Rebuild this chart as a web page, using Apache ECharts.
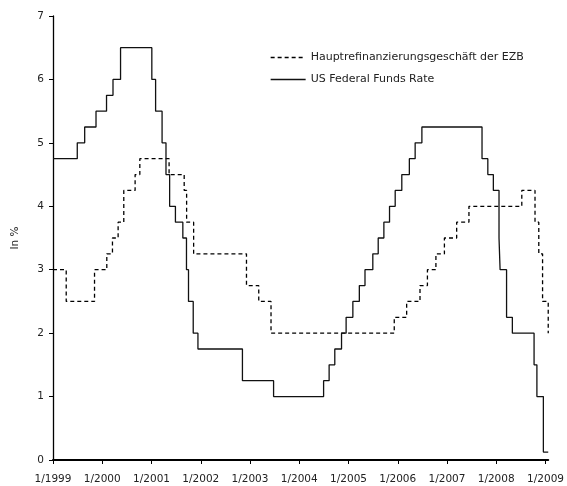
<!DOCTYPE html>
<html>
<head>
<meta charset="utf-8">
<script src="https://cdn.jsdelivr.net/npm/echarts@6/dist/echarts.min.js"></script>
<style>
html,body{margin:0;padding:0;background:#fff;}
#chart{width:567px;height:486px;}
</style>
</head>
<body>
<div id="chart"></div>
<script>
// ECB main refinancing rate (Hauptrefinanzierungsgeschäft der EZB), change dates and levels
var ecbDates = ['1999-01-01','1999-04-09','1999-11-05','2000-02-04','2000-03-17','2000-04-28','2000-06-09',
  '2000-09-01','2000-10-06','2001-05-11','2001-08-31','2001-09-18','2001-11-09','2002-12-06','2003-03-07',
  '2003-06-06','2005-12-06','2006-03-08','2006-06-15','2006-08-09','2006-10-11','2006-12-13','2007-03-14',
  '2007-06-13','2008-07-09','2008-10-15','2008-11-12','2008-12-10','2009-01-21'];
var ecbRates = [3.00,2.50,3.00,3.25,3.50,3.75,4.25,
  4.50,4.75,4.50,4.25,3.75,3.25,2.75,2.50,
  2.00,2.25,2.50,2.75,3.00,3.25,3.50,3.75,
  4.00,4.25,3.75,3.25,2.50,2.00];

// US Federal Funds target rate, change dates and levels
var fedDates = ['1999-01-01','1999-06-30','1999-08-24','1999-11-16','2000-02-02','2000-03-21','2000-05-16',
  '2001-01-03','2001-01-31','2001-03-20','2001-04-18','2001-05-15','2001-06-27','2001-08-21','2001-09-17',
  '2001-10-02','2001-11-06','2001-12-11','2002-11-06','2003-06-25','2004-06-30','2004-08-10','2004-09-21',
  '2004-11-10','2004-12-14','2005-02-02','2005-03-22','2005-05-03','2005-06-30','2005-08-09','2005-09-20',
  '2005-11-01','2005-12-13','2006-01-31','2006-03-28','2006-05-10','2006-06-29','2007-09-18','2007-10-31',
  '2007-12-11','2008-01-22','2008-01-30','2008-03-18','2008-04-30','2008-10-08','2008-10-29','2008-12-16'];
var fedRates = [4.75,5.00,5.25,5.50,5.75,6.00,6.50,
  6.00,5.50,5.00,4.50,4.00,3.75,3.50,3.00,
  2.50,2.00,1.75,1.25,1.00,1.25,1.50,1.75,
  2.00,2.25,2.50,2.75,3.00,3.25,3.50,3.75,
  4.00,4.25,4.50,4.75,5.00,5.25,4.75,4.50,
  4.25,3.50,3.00,2.25,2.00,1.50,1.00,0.125];

var startDate = '1999-01-01';
var endDate = '2009-01-21';
var yTicks = [0,1,2,3,4,5,6,7];
var seriesNames = ['Hauptrefinanzierungsgeschäft der EZB','US Federal Funds Rate'];

function toPairs(dates, vals) {
  var out = dates.map(function (d, i) { return [d, vals[i]]; });
  var last = out[out.length - 1];
  if (last[0] !== endDate) out.push([endDate, last[1]]);
  return out;
}

var FONT = 'DejaVu Sans';
var chart = echarts.init(document.getElementById('chart'), null, {renderer: 'canvas'});
chart.setOption({
  animation: false,
  backgroundColor: '#fff',
  textStyle: {fontFamily: FONT, color: '#222'},
  grid: {left: 53, right: 14, top: 16, bottom: 26, containLabel: false},
  legend: {
    orient: 'vertical', left: 265, top: 47,
    itemWidth: 35, itemHeight: 12, itemGap: 11,
    itemStyle: {opacity: 0},
    textStyle: {fontFamily: FONT, fontSize: 11, color: '#222'},
    data: [
      {name: seriesNames[0], lineStyle: {width: 1.3, type: [4, 3], color: '#000'}},
      {name: seriesNames[1], lineStyle: {width: 1.3, type: 'solid', color: '#111'}}
    ]
  },
  xAxis: {
    type: 'time',
    min: startDate, max: endDate,
    splitNumber: 10,
    minInterval: 365 * 864e5,
    maxInterval: 366 * 864e5,
    axisLine: {lineStyle: {color: '#000', width: 2}},
    axisTick: {show: true, length: 4, lineStyle: {color: '#000', width: 1}},
    splitLine: {show: false},
    axisLabel: {
      fontFamily: FONT, fontSize: 10.5, color: '#222', margin: 14,
      showMinLabel: true, showMaxLabel: false,
      formatter: function (v) { var d = new Date(v); return (d.getMonth() + 1) + '/' + d.getFullYear(); }
    }
  },
  yAxis: {
    type: 'value', min: yTicks[0], max: yTicks[yTicks.length - 1], interval: 1,
    name: 'In %', nameLocation: 'middle', nameGap: 32, nameRotate: 90,
    nameTextStyle: {fontFamily: FONT, fontSize: 10.5, color: '#222'},
    axisLine: {show: true, lineStyle: {color: '#000', width: 1.3}},
    axisTick: {show: true, length: 4, lineStyle: {color: '#000', width: 1}},
    splitLine: {show: false},
    axisLabel: {fontFamily: FONT, fontSize: 10.5, color: '#222', margin: 9}
  },
  series: [
    {
      name: seriesNames[0], type: 'line', step: 'end', symbol: 'none',
      data: toPairs(ecbDates, ecbRates),
      lineStyle: {color: '#000', width: 1.3, type: [4, 3]},
      itemStyle: {color: '#000'}
    },
    {
      name: seriesNames[1], type: 'line', step: 'end', symbol: 'none',
      data: toPairs(fedDates, fedRates),
      lineStyle: {color: '#111', width: 1.3, type: 'solid'},
      itemStyle: {color: '#111'}
    }
  ]
});
</script>
</body>
</html>
